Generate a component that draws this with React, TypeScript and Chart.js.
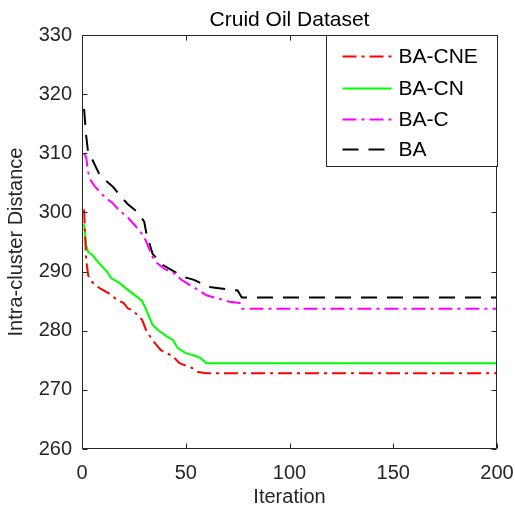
import React, { useEffect, useRef } from "react";
import { Chart, registerables } from "chart.js";

Chart.register(...registerables);

const chartTitle = "Cruid Oil Dataset";
const xTitle = "Iteration";
const yTitle = "Intra-cluster Distance";

const seriesNames = ["BA-CNE", "BA-CN", "BA-C", "BA"];
const seriesColors = ["#ff0000", "#00ff00", "#ff00ff", "#000000"];
const seriesDashes = [[14, 5, 3, 5], [], [14, 5, 3, 5], [16, 10]];

const iterCNE = [1, 2, 3, 5, 8, 10, 13, 17, 20, 22, 24, 27, 29, 31, 34, 38, 42, 44, 47, 50, 53, 56, 60, 200];
const valCNE = [300.5, 292, 289.3, 288.2, 287.3, 286.9, 286.3, 285.2, 284.7, 283.8, 283.5, 282.6, 281.8, 280, 278.4, 276.7, 276.0, 275.6, 274.5, 274.1, 273.7, 273.0, 272.8, 272.8];

const iterCN = [1, 2, 3, 5, 9, 12, 14, 18, 21, 24, 27, 29, 31, 34, 37, 41, 44, 46, 50, 54, 57, 60, 200];
const valCN = [298, 294.5, 293.3, 292.8, 291.1, 290.0, 288.9, 288.1, 287.2, 286.4, 285.6, 285, 283.5, 281, 280, 279, 278.4, 277.1, 276.2, 275.8, 275.4, 274.5, 274.5];

const iterC = [1, 2, 3, 4, 6, 9, 12, 15, 18, 22, 25, 28, 30, 32, 34, 36, 40, 44, 48, 52, 56, 60, 65, 71, 76, 77, 200];
const valC = [310, 309.3, 306.8, 305.5, 304.5, 303.3, 302.3, 301.5, 300.3, 299.2, 298, 296.8, 295.8, 294.2, 292.5, 291.5, 290.4, 289.8, 288.6, 287.7, 286.9, 286, 285.5, 284.9, 284.7, 283.7, 283.7];

const iterBA = [1, 2, 3, 5, 8, 11, 15, 18, 22, 27, 30, 31, 34, 39, 43, 49, 54, 61, 66, 75, 77, 200];
const valBA = [317.5, 313, 310, 308.9, 306.7, 305.5, 304.3, 303, 301.4, 300, 298.4, 296.5, 293, 291.1, 290.3, 289.1, 288.6, 287.4, 287.2, 286.8, 285.6, 285.6];

const xTicks = [0, 50, 100, 150, 200];
const yTicks = [260, 270, 280, 290, 300, 310, 320, 330];

const seriesIters = [iterCNE, iterCN, iterC, iterBA];
const seriesVals = [valCNE, valCN, valC, valBA];

const FONT = "'Liberation Sans', Arial, sans-serif";
const AXIS_COLOR = "#262626";

const framePlugin = {
  id: "matlabFrame",
  afterDraw(chart: any) {
    const ctx = chart.ctx;
    const { left, right, top, bottom } = chart.chartArea;
    const xs = chart.scales.x;
    const ys = chart.scales.y;
    ctx.save();
    ctx.strokeStyle = AXIS_COLOR;
    ctx.lineWidth = 1;
    ctx.setLineDash([]);
    const L = Math.round(left) + 0.5;
    const R = Math.round(right) - 0.5;
    const T = Math.round(top) + 0.5;
    const B = Math.round(bottom) - 0.5;
    ctx.beginPath();
    ctx.rect(L, T, R - L, B - T);
    ctx.stroke();
    const tl = 5;
    ctx.beginPath();
    xTicks.forEach((v) => {
      const p = Math.round(xs.getPixelForValue(v)) + 0.5;
      ctx.moveTo(p, B);
      ctx.lineTo(p, B - tl);
      ctx.moveTo(p, T);
      ctx.lineTo(p, T + tl);
    });
    yTicks.forEach((v) => {
      const p = Math.round(ys.getPixelForValue(v)) + 0.5;
      ctx.moveTo(L, p);
      ctx.lineTo(L + tl, p);
      ctx.moveTo(R, p);
      ctx.lineTo(R - tl, p);
    });
    ctx.stroke();

    // legend (MATLAB style, top-right)
    const lw = 171;
    const lh = 131;
    const lx = Math.round(R - lw) + 0.5;
    ctx.fillStyle = "#ffffff";
    ctx.fillRect(lx, T, lw, lh);
    ctx.strokeRect(lx, T, lw, lh);
    const rowY = [20, 52, 83, 113];
    ctx.font = `21px ${FONT}`;
    ctx.textBaseline = "middle";
    ctx.textAlign = "left";
    seriesNames.forEach((name, i) => {
      const yy = Math.round(T + rowY[i]) + 0.5;
      ctx.strokeStyle = seriesColors[i];
      ctx.lineWidth = 2;
      ctx.setLineDash(seriesDashes[i]);
      ctx.beginPath();
      ctx.moveTo(lx + 16, yy);
      ctx.lineTo(lx + 65, yy);
      ctx.stroke();
      ctx.setLineDash([]);
      ctx.fillStyle = "#000000";
      ctx.fillText(name, lx + 72, yy + 1);
    });
    ctx.restore();
  },
};

export default function App() {
  const canvasRef = useRef<HTMLCanvasElement | null>(null);

  useEffect(() => {
    const canvas = canvasRef.current;
    if (!canvas) return;
    const datasets = seriesNames.map((name, i) => ({
      label: name,
      data: seriesIters[i].map((x, j) => ({ x, y: seriesVals[i][j] })),
      borderColor: seriesColors[i],
      backgroundColor: seriesColors[i],
      borderWidth: 2,
      borderDash: seriesDashes[i],
      pointRadius: 0,
      tension: 0,
      fill: false,
    }));
    const chart = new Chart(canvas, {
      type: "line",
      data: { datasets },
      options: {
        responsive: false,
        animation: false,
        layout: { padding: { left: 0, right: 18, top: 0, bottom: 0 } },
        plugins: {
          legend: { display: false },
          title: { display: false },
          tooltip: { enabled: false },
        },
        scales: {
          x: {
            type: "linear",
            position: "bottom",
            min: 0,
            max: 200,
            grid: { display: false, drawTicks: false },
            border: { display: false },
            ticks: {
              stepSize: 50,
              padding: 12,
              color: AXIS_COLOR,
              font: { family: FONT, size: 20 },
              maxRotation: 0,
              autoSkip: false,
            },
            title: {
              display: true,
              text: xTitle,
              color: AXIS_COLOR,
              font: { family: FONT, size: 20 },
              padding: { top: 0, bottom: 4 },
            },
            afterFit: (s: any) => {
              s.height = 64;
              s.paddingLeft = 0;
              s.paddingRight = 0;
            },
          },
          xTop: {
            type: "linear",
            position: "top",
            min: 0,
            max: 200,
            grid: { display: false, drawTicks: false },
            border: { display: false },
            ticks: { display: false },
            title: {
              display: true,
              text: chartTitle,
              color: "#000000",
              font: { family: FONT, size: 21 },
              padding: { top: 8, bottom: 0 },
            },
            afterFit: (s: any) => {
              s.height = 35;
              s.paddingLeft = 0;
              s.paddingRight = 0;
            },
          },
          y: {
            type: "linear",
            position: "left",
            min: 260,
            max: 330,
            grid: { display: false, drawTicks: false },
            border: { display: false },
            ticks: {
              stepSize: 10,
              padding: 10,
              color: AXIS_COLOR,
              font: { family: FONT, size: 20 },
              autoSkip: false,
            },
            title: {
              display: true,
              text: yTitle,
              color: AXIS_COLOR,
              font: { family: FONT, size: 20 },
              padding: { top: 4, bottom: 0 },
            },
            afterFit: (s: any) => {
              s.width = 82;
              s.paddingTop = 0;
              s.paddingBottom = 0;
            },
          },
        },
      },
      plugins: [framePlugin],
    });
    return () => chart.destroy();
  }, []);

  return (
    <div style={{ position: "absolute", left: 0, top: 0, width: 515, height: 513, background: "#fff" }}>
      <canvas ref={canvasRef} width={515} height={513} style={{ display: "block" }} />
    </div>
  );
}
